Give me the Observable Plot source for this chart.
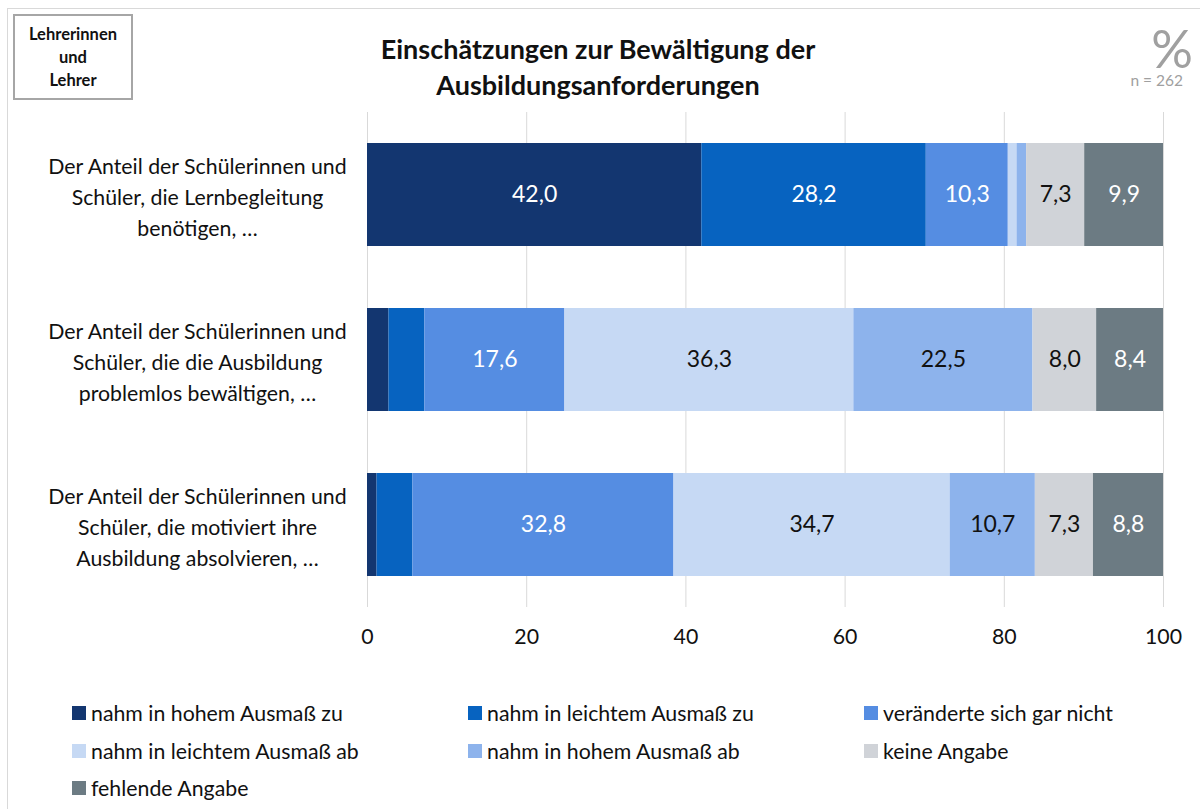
<!DOCTYPE html>
<html>
<head>
<meta charset="utf-8">
<script src="https://cdn.jsdelivr.net/npm/d3@7"></script>
<script src="https://cdn.jsdelivr.net/npm/@observablehq/plot@0.6"></script>
<style>
  body { margin: 0; background: #fff; font-family: Lato, "Noto Sans", sans-serif; }
  #wrap { position: relative; width: 1200px; height: 809px; overflow: hidden; }
  #frame { position: absolute; left: 7px; top: 8px; width: 1300px; height: 900px; border: 1px solid #D9D9D9; box-sizing: border-box; }
  #badge { position: absolute; left: 13px; top: 14px; width: 120px; height: 86px; border: 2px solid #A6A6A6; box-sizing: border-box;
           display: flex; align-items: center; justify-content: center; text-align: center; font-weight: bold; font-size: 16.5px; line-height: 23px; color: #111; }
  #title { position: absolute; left: 250px; width: 696px; top: 31px; text-align: center; font-weight: bold; font-size: 27px; line-height: 36px; color: #111; }
  #pct { position: absolute; right: 7px; top: 27px; font-size: 52px; color: #A0A0A0; line-height: 42px; }
  #n { position: absolute; right: 17px; top: 71px; font-size: 15.5px; line-height: 18px; color: #A0A0A0; }
  #chart { position: absolute; left: 0; top: 0; }
  #legend { position: absolute; left: 72px; top: 700px; width: 1120px; }
  .li { position: absolute; display: flex; align-items: center; font-size: 21.3px; color: #111; white-space: nowrap; }
  .sw { width: 14px; height: 14px; margin-right: 5px; flex: none; }
</style>
</head>
<body>
<div id="wrap">
  <div id="frame"></div>
  <div id="badge">Lehrerinnen<br>und<br>Lehrer</div>
  <div id="title">Einschätzungen zur Bewältigung der<br>Ausbildungsanforderungen</div>
  <div id="pct">%</div>
  <div id="n">n = 262</div>
  <div id="chart"></div>
  <div id="legend"></div>
</div>
<script>
const categories = [
  "Der Anteil der Schülerinnen und Schüler, die Lernbegleitung benötigen, …",
  "Der Anteil der Schülerinnen und Schüler, die die Ausbildung problemlos bewältigen, …",
  "Der Anteil der Schülerinnen und Schüler, die motiviert ihre Ausbildung absolvieren, …"
];
const categoryLines = [
  "Der Anteil der Schülerinnen und\nSchüler, die Lernbegleitung\nbenötigen, …",
  "Der Anteil der Schülerinnen und\nSchüler, die die Ausbildung\nproblemlos bewältigen, …",
  "Der Anteil der Schülerinnen und\nSchüler, die motiviert ihre\nAusbildung absolvieren, …"
];
const seriesNames = [
  "nahm in hohem Ausmaß zu",
  "nahm in leichtem Ausmaß zu",
  "veränderte sich gar nicht",
  "nahm in leichtem Ausmaß ab",
  "nahm in hohem Ausmaß ab",
  "keine Angabe",
  "fehlende Angabe"
];
const values = [
  [42.0, 28.2, 10.3, 1.1, 1.2, 7.3, 9.9],
  [2.7, 4.5, 17.6, 36.3, 22.5, 8.0, 8.4],
  [1.2, 4.5, 32.8, 34.7, 10.7, 7.3, 8.8]
];
const seriesColors = ["#133670", "#0763C0", "#558DE2", "#C6D9F4", "#8DB3EC", "#D0D3D8", "#6C7B83"];
const whiteLabelSeries = ["nahm in hohem Ausmaß zu", "nahm in leichtem Ausmaß zu", "veränderte sich gar nicht", "fehlende Angabe"];
const xTicks = [0, 20, 40, 60, 80, 100];

const data = [];
categories.forEach((c, i) => seriesNames.forEach((s, j) => data.push({category: c, series: s, value: values[i][j]})));
const fmt = v => v.toFixed(1).replace(".", ",");
const showLabel = d => d.value >= 5;

const plot = Plot.plot({
  width: 1200,
  height: 660,
  marginTop: 112,
  marginBottom: 53,
  marginLeft: 367,
  marginRight: 37,
  style: {fontFamily: "Lato, 'Noto Sans', sans-serif", background: "transparent"},
  x: {domain: [0, 100], ticks: xTicks},
  y: {domain: categories, paddingInner: 0.376, paddingOuter: 0.188},
  color: {domain: seriesNames, range: seriesColors},
  marks: [
    Plot.gridX(xTicks, {stroke: "#D9D9D9", strokeOpacity: 1}),
    Plot.barX(data, Plot.stackX({x: "value", y: "category", fill: "series", order: null})),
    Plot.text(data, Plot.stackX({x: "value", y: "category", order: null,
      text: d => showLabel(d) && whiteLabelSeries.includes(d.series) ? fmt(d.value) : "",
      fill: "white", fontSize: 23})),
    Plot.text(data, Plot.stackX({x: "value", y: "category", order: null,
      text: d => showLabel(d) && !whiteLabelSeries.includes(d.series) ? fmt(d.value) : "",
      fill: "#111", fontSize: 23})),
    Plot.axisX({ticks: xTicks, tickSize: 0, tickPadding: 21, fontSize: 21.3, label: null, color: "#111"}),
    Plot.axisY({tickSize: 0, tickPadding: 170, textAnchor: "middle", fontSize: 21.3, lineHeight: 1.46, label: null,
      tickFormat: c => categoryLines[categories.indexOf(c)], color: "#111"})
  ]
});
document.getElementById("chart").appendChild(plot);

const legend = document.getElementById("legend");
seriesNames.forEach((s, i) => {
  const el = document.createElement("div");
  el.className = "li";
  el.style.left = (i % 3) * 396 + "px";
  el.style.top = Math.floor(i / 3) * 37.5 + "px";
  el.innerHTML = `<span class="sw" style="background:${seriesColors[i]}"></span><span>${s}</span>`;
  legend.appendChild(el);
});
</script>
</body>
</html>
